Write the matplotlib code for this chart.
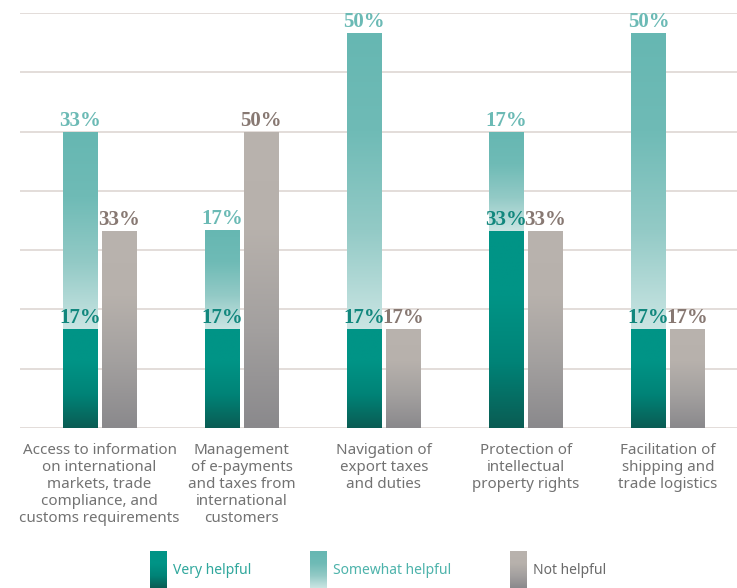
import numpy as np
import matplotlib
matplotlib.use("Agg")
import matplotlib.pyplot as plt
from matplotlib.colors import LinearSegmentedColormap

categories = [
    "Access to information\non international\nmarkets, trade\ncompliance, and\ncustoms requirements",
    "Management\nof e-payments\nand taxes from\ninternational\ncustomers",
    "Navigation of\nexport taxes\nand duties",
    "Protection of\nintellectual\nproperty rights",
    "Facilitation of\nshipping and\ntrade logistics",
]
very = [16.7, 16.7, 16.7, 33.3, 16.7]
somewhat = [33.3, 16.7, 50.0, 16.7, 50.0]
noth = [33.3, 50.0, 16.7, 33.3, 16.7]
very_lbl = ["17%", "17%", "17%", "33%", "17%"]
some_lbl = ["33%", "17%", "50%", "17%", "50%"]
not_lbl = ["33%", "50%", "17%", "33%", "17%"]

# gradients: colours listed from bottom to top
c_very = ["#0a5c53", "#008377", "#009486", "#009486"]
c_some = ["#cae5e3", "#93cac6", "#6fbbb6", "#66b7b2"]
c_not = ["#8a898c", "#a3a09f", "#b7b1ac", "#b9b3ae"]

W, H = 737, 588
fig = plt.figure(figsize=(W / 100, H / 100), dpi=100)
ax = fig.add_axes([20 / W, 1 - 428 / H, 717 / W, 415 / H])

x = np.arange(len(categories))
bw = 0.24
off = 0.137


def grad_fill(bars, cols):
    cmap = LinearSegmentedColormap.from_list("g", cols)
    g = np.linspace(0, 1, 256).reshape(-1, 1)
    for b in bars:
        x0, y0 = b.get_x(), b.get_y()
        im = ax.imshow(g, cmap=cmap, aspect="auto", origin="lower",
                       extent=[x0, x0 + b.get_width(), y0, y0 + b.get_height()],
                       zorder=3)
        im.set_clip_path(b)
        b.set_facecolor("none")


b1 = ax.bar(x - off, very, bw, color=c_very[-1], zorder=2, linewidth=0)
b2 = ax.bar(x - off, somewhat, bw, bottom=very, color=c_some[-1], zorder=2, linewidth=0)
b3 = ax.bar(x + off, noth, bw, color=c_not[-1], zorder=2, linewidth=0)
grad_fill(b1, c_very)
grad_fill(b2, c_some)
grad_fill(b3, c_not)

lab_font = dict(family="Liberation Serif", fontweight="bold", fontsize=15,
                ha="center", va="bottom", zorder=5)
for i in range(len(x)):
    ax.text(x[i] - off, very[i] + 0.1, very_lbl[i], color="#11877d", **lab_font)
    ax.text(x[i] - off, very[i] + somewhat[i] + 0.1, some_lbl[i], color="#6bbab5", **lab_font)
    ax.text(x[i] + off, noth[i] + 0.1, not_lbl[i], color="#877872", **lab_font)

ax.set_xlim(-0.56, 4.486)
ax.set_ylim(0, 70)
ax.set_yticks(np.arange(0, 71, 10))
ax.yaxis.grid(True, color="#e3ddd9", linewidth=1.4, zorder=0)
ax.set_axisbelow(True)
ax.tick_params(left=False, labelleft=False, bottom=False)
for s in ax.spines.values():
    s.set_visible(False)
ax.set_xticks(x)
ax.set_xticklabels(categories, family="Noto Sans", fontsize=10.9, color="#727272",
                   linespacing=1.2)
ax.tick_params(axis="x", pad=7)

# legend
lax = fig.add_axes([0, 0, 1, 1], zorder=-1)
lax.axis("off")
legend_items = [("Very helpful", c_very, 150, "#2fa79c"),
                ("Somewhat helpful", c_some, 310, "#4db3ab"),
                ("Not helpful", c_not, 510, "#6a6a6a")]
g = np.linspace(0, 1, 256).reshape(-1, 1)
for name, cols, lx, tc in legend_items:
    cmap = LinearSegmentedColormap.from_list("g", cols)
    lax.imshow(g, cmap=cmap, aspect="auto", origin="lower",
               extent=[lx, lx + 17, 588, 551])
    lax.text(lx + 23, 571, name, color=tc, family="Noto Sans", fontsize=10,
             va="center", ha="left")
lax.set_xlim(0, W)
lax.set_ylim(H, 0)

fig.savefig("out.png", dpi=100)
